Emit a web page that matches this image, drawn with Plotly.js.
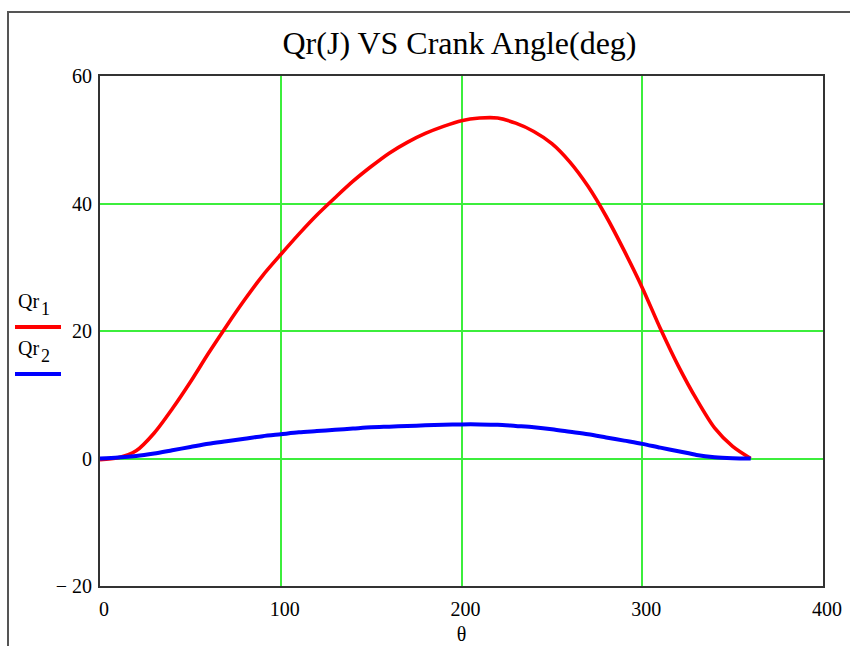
<!DOCTYPE html>
<html>
<head>
<meta charset="utf-8">
<script src="https://cdn.plot.ly/plotly-3.0.1.min.js"></script>
<style>
  html, body { margin: 0; padding: 0; background: #fff; }
  #wrap { position: relative; width: 850px; height: 646px; overflow: hidden; }
  #frame { position: absolute; left: 7px; top: 11px; width: 900px; height: 700px;
           border-left: 2px solid #555; border-top: 2px solid #555; }
  #chart { position: absolute; left: 0; top: 0; width: 850px; height: 646px; }
</style>
</head>
<body>
<div id="wrap">
  <div id="frame"></div>
  <div id="chart"></div>
</div>
<script>
// Crank angle (deg)
const theta = [0,10,20,30,40,50,60,70,80,90,100,110,120,130,140,150,160,170,180,
               190,200,210,220,230,240,250,260,270,280,290,300,310,320,330,340,350,360];
// Qr1 (J)
const qr1 = [-0.2,0.1,1.2,4.0,7.8,12.0,16.5,20.8,24.9,28.7,32.0,35.2,38.2,40.9,43.5,45.8,47.9,49.6,51.0,
             52.1,53.0,53.4,53.4,52.6,51.3,49.4,46.5,42.7,38.0,32.6,26.8,20.4,14.5,9.3,4.8,1.9,0.0];
// Qr2 (J)
const qr2 = [0.0,0.15,0.4,0.8,1.3,1.8,2.3,2.7,3.1,3.5,3.8,4.1,4.3,4.5,4.7,4.9,5.0,5.1,5.2,
             5.3,5.35,5.35,5.3,5.1,4.9,4.6,4.2,3.8,3.3,2.8,2.3,1.7,1.15,0.55,0.2,0.05,0.0];
const xTicks = [0,100,200,300,400];
const xTickText = ['0','100','200','300','400'];
const yTicks = [-20,0,20,40,60];
const yTickText = ['\u2212 20','0','20','40','60'];
const seriesBase = ['Qr','Qr'];
const seriesSub = ['1','2'];
const seriesColors = ['#ff0000','#0000ff'];

const serif = 'Liberation Serif, Times New Roman, serif';

const traces = [
  {x: theta, y: qr1, type: 'scatter', mode: 'lines', name: 'Qr1',
   line: {color: seriesColors[0], width: 3.6, shape: 'spline', smoothing: 0.8}},
  {x: theta, y: qr2, type: 'scatter', mode: 'lines', name: 'Qr2',
   line: {color: seriesColors[1], width: 4, shape: 'spline', smoothing: 0.8}}
];

const L = 100, R = 27, T = 76, B = 60;
const W = 850, H = 646;
const pw = W - L - R, ph = H - T - B;
function px2paperX(px) { return (px - L) / pw; }
function px2paperY(py) { return (H - B - py) / ph; }

const legendRows = [301, 348];
const legendLines = [327, 374];
const annotations = [];
const shapes = [];
for (let i = 0; i < 2; i++) {
  annotations.push({xref: 'paper', yref: 'paper', x: px2paperX(16), y: px2paperY(legendRows[i]),
    xanchor: 'left', yanchor: 'middle', text: seriesBase[i], showarrow: false,
    font: {family: serif, size: 20, color: '#000'}});
  annotations.push({xref: 'paper', yref: 'paper', x: px2paperX(39), y: px2paperY(legendRows[i] + 8),
    xanchor: 'left', yanchor: 'middle', text: seriesSub[i], showarrow: false,
    font: {family: serif, size: 18, color: '#000'}});
  shapes.push({type: 'line', xref: 'paper', yref: 'paper', x0: px2paperX(15), x1: px2paperX(61),
    y0: px2paperY(legendLines[i]), y1: px2paperY(legendLines[i]),
    line: {color: seriesColors[i], width: 3.8}});
}

const layout = {
  width: W, height: H,
  margin: {l: L, r: R, t: T, b: B, pad: 0},
  paper_bgcolor: 'rgba(0,0,0,0)',
  plot_bgcolor: '#fff',
  showlegend: false,
  title: {text: 'Qr(J) VS Crank Angle(deg)', font: {family: serif, size: 32, color: '#000'},
          x: 0.5406, xanchor: 'center', y: 1 - 43/H, yanchor: 'middle'},
  xaxis: {
    range: [0, 400], tickvals: xTicks, ticktext: xTickText,
    showgrid: true, gridcolor: '#3cee3c', gridwidth: 2,
    zeroline: false, showline: true, mirror: true, linecolor: '#333', linewidth: 2,
    ticks: '', ticklabelshift: 4, ticklabelstandoff: 4,
    tickfont: {family: serif, size: 20, color: '#000'},
    title: {text: '\u03b8', font: {family: serif, size: 20, color: '#000'}, standoff: 8},
    fixedrange: true
  },
  yaxis: {
    range: [-20, 60], tickvals: yTicks, ticktext: yTickText,
    showgrid: true, gridcolor: '#3cee3c', gridwidth: 2,
    zeroline: false, showline: true, mirror: true, linecolor: '#333', linewidth: 2,
    ticks: '', ticklabelstandoff: 2,
    tickfont: {family: serif, size: 20, color: '#000'},
    fixedrange: true
  },
  annotations: annotations,
  shapes: shapes
};

Plotly.newPlot('chart', traces, layout, {displayModeBar: false, staticPlot: true});
</script>
</body>
</html>
